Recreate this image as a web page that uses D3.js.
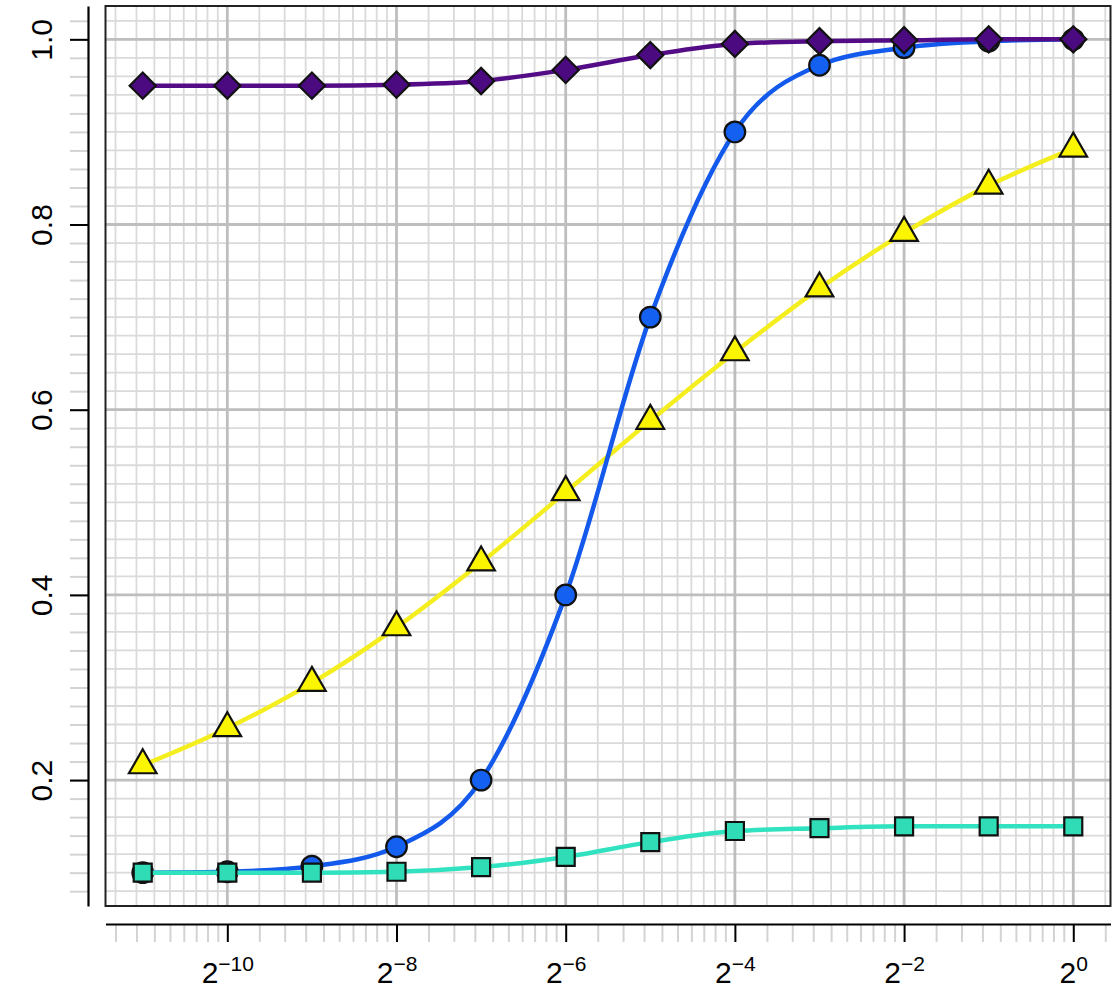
<!DOCTYPE html>
<html>
<head>
<meta charset="utf-8">
<script src="https://cdn.jsdelivr.net/npm/d3@7"></script>
<style>
  html, body { margin: 0; padding: 0; background: #fff; }
  svg { display: block; font-family: "Liberation Sans", Arial, Helvetica, sans-serif; }
</style>
</head>
<body>
<svg id="chart" width="1115" height="990"></svg>
<script>
// x positions: powers of two, 2^-11 ... 2^0
const exponents = [-11, -10, -9, -8, -7, -6, -5, -4, -3, -2, -1, 0];
const xValues = exponents.map(e => Math.pow(2, e));

// series values, one per x position
const purpleValues = [0.950, 0.950, 0.950, 0.951, 0.955, 0.967, 0.983, 0.995, 0.998, 0.999, 1.000, 1.000];
const blueValues   = [0.100, 0.101, 0.107, 0.128, 0.200, 0.400, 0.700, 0.900, 0.972, 0.991, 0.998, 1.000];
const yellowValues = [0.216, 0.256, 0.305, 0.365, 0.435, 0.511, 0.588, 0.662, 0.731, 0.791, 0.842, 0.882];
const tealValues   = [0.100, 0.100, 0.100, 0.101, 0.106, 0.117, 0.133, 0.145, 0.148, 0.150, 0.150, 0.150];

// axis ticks
const xMajorExponents = [-10, -8, -6, -4, -2, 0];
const yMajorTicks = [0.2, 0.4, 0.6, 0.8, 1.0];
const yTickLabels = ["0.2", "0.4", "0.6", "0.8", "1.0"];

const svg = d3.select("#chart");

const plot = { left: 105.5, right: 1110.5, top: 6, bottom: 906 };

const x = d3.scaleLog().base(2)
  .domain([Math.pow(2, -11.44), Math.pow(2, 0.44)])
  .range([plot.left, plot.right]);
const y = d3.scaleLinear()
  .domain([0.064, 1.036])
  .range([plot.bottom, plot.top]);

// minor x positions: ten linear steps inside each span 2^k .. 2^(k+2)
const xMinor = [];
for (let k = -14; k <= 0; k += 2) {
  const lo = Math.pow(2, k), hi = Math.pow(2, k + 2);
  for (let j = 1; j <= 9; j++) xMinor.push(lo + j * (hi - lo) / 10);
}
const [xd0, xd1] = x.domain();
const xMinorIn = xMinor.filter(v => v > xd0 && v < xd1);
const xMajor = xMajorExponents.map(e => Math.pow(2, e));

// minor y positions every 0.02
const yMinor = d3.range(0, 56).map(i => +(i * 0.02).toFixed(2))
  .filter(v => v > y.domain()[0] && v < y.domain()[1]);

// grid
const grid = svg.append("g");
grid.selectAll(".vmin").data(xMinorIn).join("line")
  .attr("x1", d => x(d)).attr("x2", d => x(d))
  .attr("y1", plot.top).attr("y2", plot.bottom)
  .attr("stroke", "#dadada").attr("stroke-width", 1.8);
grid.selectAll(".hmin").data(yMinor).join("line")
  .attr("x1", plot.left).attr("x2", plot.right)
  .attr("y1", d => y(d)).attr("y2", d => y(d))
  .attr("stroke", "#dadada").attr("stroke-width", 1.8);
grid.selectAll(".vmaj").data(xMajor).join("line")
  .attr("x1", d => x(d)).attr("x2", d => x(d))
  .attr("y1", plot.top).attr("y2", plot.bottom)
  .attr("stroke", "#bebebe").attr("stroke-width", 2.8);
grid.selectAll(".hmaj").data(yMajorTicks).join("line")
  .attr("x1", plot.left).attr("x2", plot.right)
  .attr("y1", d => y(d)).attr("y2", d => y(d))
  .attr("stroke", "#bebebe").attr("stroke-width", 2.8);

// series
const series = [
  { values: yellowValues, line: "#f5ee1e", fill: "#fbf500", shape: "triangle" },
  { values: blueValues,   line: "#1259ec", fill: "#1460f0", shape: "circle" },
  { values: tealValues,   line: "#30e2bf", fill: "#2fdcb6", shape: "square" },
  { values: purpleValues, line: "#530c86", fill: "#4c0a80", shape: "diamond" }
];

const lineGen = d3.line()
  .x(d => x(d[0])).y(d => y(d[1]))
  .curve(d3.curveMonotoneX);

const symbolFor = {
  triangle: d3.symbol().type(d3.symbolTriangle).size(330),
  circle:   d3.symbol().type(d3.symbolCircle).size(Math.PI * 10.3 * 10.3),
  square:   d3.symbol().type(d3.symbolSquare).size(18 * 18),
  diamond:  d3.symbol().type(d3.symbolSquare).size(18.5 * 18.5)
};

series.forEach(s => {
  const pts = xValues.map((xv, i) => [xv, s.values[i]]);
  const g = svg.append("g");
  g.append("path")
    .attr("d", lineGen(pts))
    .attr("fill", "none")
    .attr("stroke", s.line)
    .attr("stroke-width", 4.5);
  g.selectAll("path.pt").data(pts).join("path")
    .attr("class", "pt")
    .attr("d", symbolFor[s.shape]())
    .attr("transform", d => `translate(${x(d[0])},${y(d[1])})` + (s.shape === "diamond" ? " rotate(45)" : ""))
    .attr("fill", s.fill)
    .attr("stroke", "#111")
    .attr("stroke-width", 2.2)
    .attr("stroke-linejoin", "miter");
});

// plot frame
svg.append("rect")
  .attr("x", plot.left).attr("y", plot.top)
  .attr("width", plot.right - plot.left).attr("height", plot.bottom - plot.top)
  .attr("fill", "none").attr("stroke", "#222").attr("stroke-width", 2);

// left axis: minor ticks (grey), then major ticks with labels
const leftX = 88;
const yMinorAxis = d3.axisLeft(y).tickValues(yMinor).tickSize(18).tickSizeOuter(0).tickFormat("");
const gyMin = svg.append("g").attr("transform", `translate(${leftX},0)`).call(yMinorAxis);
gyMin.select(".domain").remove();
gyMin.selectAll(".tick line").attr("stroke", "#d3d3d3").attr("stroke-width", 2);

const yAxis = d3.axisLeft(y).tickValues(yMajorTicks).tickSize(18).tickSizeOuter(0)
  .tickFormat((d, i) => yTickLabels[i]);
const gy = svg.append("g").attr("transform", `translate(${leftX},0)`).call(yAxis);
gy.select(".domain").attr("stroke", "#000").attr("stroke-width", 2.2);
gy.selectAll(".tick line").attr("stroke", "#000").attr("stroke-width", 2);
gy.selectAll(".tick text")
  .attr("x", null).attr("dy", null)
  .attr("transform", "translate(-36,0) rotate(-90)")
  .attr("text-anchor", "middle")
  .attr("fill", "#000")
  .style("font-size", "30px")
  .style("font-family", "\"Liberation Sans\", Arial, sans-serif");

// bottom axis
const bottomY = 924;
const xMinorAxis = d3.axisBottom(x).tickValues(xMinorIn).tickSize(18).tickSizeOuter(0).tickFormat("");
const gxMin = svg.append("g").attr("transform", `translate(0,${bottomY})`).call(xMinorAxis);
gxMin.select(".domain").remove();
gxMin.selectAll(".tick line").attr("stroke", "#d3d3d3").attr("stroke-width", 2);

const xAxis = d3.axisBottom(x).tickValues(xMajor).tickSize(18).tickSizeOuter(0).tickFormat("");
const gx = svg.append("g").attr("transform", `translate(0,${bottomY})`).call(xAxis);
gx.select(".domain").attr("stroke", "#000").attr("stroke-width", 2.2);
gx.selectAll(".tick line").attr("stroke", "#000").attr("stroke-width", 2);
gx.selectAll(".tick text").each(function(d, i) {
  const t = d3.select(this)
    .attr("y", 59).attr("dy", null)
    .attr("text-anchor", "middle")
    .attr("fill", "#000")
    .style("font-family", "\"Liberation Sans\", Arial, sans-serif")
    .text(null);
  t.append("tspan").style("font-size", "30px").text("2");
  const e = xMajorExponents[i];
  t.append("tspan").style("font-size", "21px").attr("dy", -12)
    .text(e < 0 ? "\u2212" + Math.abs(e) : String(e));
});
</script>
</body>
</html>
